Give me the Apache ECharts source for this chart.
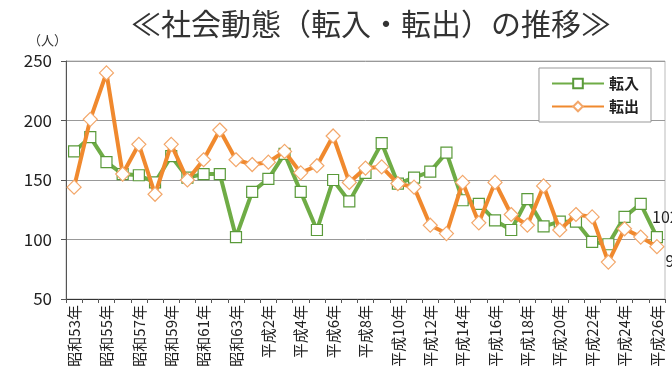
<!DOCTYPE html>
<html>
<head>
<meta charset="utf-8">
<script src="https://cdn.jsdelivr.net/npm/echarts@6/dist/echarts.min.js"></script>
<style>
html, body { margin: 0; padding: 0; background: #fff; }
#chart { width: 672px; height: 385px; }
</style>
</head>
<body>
<div id="chart"></div>
<script>
// 昭和53年 ～ 平成26年
var years = ['昭和53年','昭和54年','昭和55年','昭和56年','昭和57年','昭和58年','昭和59年','昭和60年','昭和61年','昭和62年','昭和63年',
	'平成元年','平成2年','平成3年','平成4年','平成5年','平成6年','平成7年','平成8年','平成9年','平成10年','平成11年','平成12年',
	'平成13年','平成14年','平成15年','平成16年','平成17年','平成18年','平成19年','平成20年','平成21年','平成22年','平成23年',
	'平成24年','平成25年','平成26年'];
var tennyu = [174,186,165,155,154,148,170,152,155,155,102,140,151,172,140,108,150,132,156,181,147,152,157,173,133,130,116,108,134,111,115,115,98,96,119,130,102];
var tenshutsu = [144,201,240,155,180,138,180,150,167,192,167,163,165,174,156,162,187,148,160,161,147,144,112,105,148,114,148,121,112,145,108,121,119,81,109,102,94];
var y_ticks = [50, 250, 50]; // min, max, interval

var chart = echarts.init(document.getElementById('chart'));
var font_jp = '"Noto Sans CJK JP", sans-serif';

// 最終年だけ値を表示
function last_label(offset){
	return {
		show: true,
		position: 'right',
		distance: 3,
		offset: offset,
		color: '#222',
		fontSize: 16,
		fontFamily: font_jp,
		formatter: function(p){
			return p.dataIndex == years.length - 1 ? p.value : '';
		}
	};
}

var option = {
	backgroundColor: '#fff',
	title: {
		text: '≪社会動態（転入・転出）の推移≫',
		left: 126,
		top: 4,
		textStyle: {
			fontSize: 30,
			fontWeight: 'normal',
			color: '#333',
			fontFamily: font_jp
		}
	},
	graphic: [{
		type: 'text',
		left: 28,
		top: 34,
		style: { text: '（人）', fontSize: 13, fill: '#333', fontFamily: font_jp }
	}],
	legend: {
		orient: 'vertical',
		right: 21,
		top: 68,
		itemWidth: 52,
		itemHeight: 12,
		itemGap: 8,
		padding: [8, 12, 8, 12],
		borderColor: '#999',
		borderWidth: 1,
		backgroundColor: '#fff',
		textStyle: { fontSize: 15, fontWeight: 'bold', color: '#222', fontFamily: font_jp },
		data: ['転入', '転出']
	},
	grid: {
		left: 66,
		right: 7,
		top: 61,
		bottom: 86,
		show: true,
		borderColor: '#bbb',
		borderWidth: 1
	},
	xAxis: {
		type: 'category',
		data: years,
		boundaryGap: true,
		axisLine: { lineStyle: { color: '#333', width: 1 } },
		axisTick: { show: true, interval: 0, length: 4, lineStyle: { color: '#555' } },
		axisLabel: {
			interval: 1,
			rotate: 90,
			fontSize: 15,
			color: '#222',
			margin: 6,
			fontFamily: font_jp
		}
	},
	yAxis: {
		type: 'value',
		min: y_ticks[0],
		max: y_ticks[1],
		interval: y_ticks[2],
		axisLine: { show: true, lineStyle: { color: '#555' } },
		axisTick: { show: true, length: 5, lineStyle: { color: '#555' } },
		axisLabel: { fontSize: 17, color: '#222', margin: 14, fontFamily: font_jp },
		splitLine: { lineStyle: { color: '#999', width: 1 } }
	},
	series: [
		{
			name: '転入',
			type: 'line',
			data: tennyu,
			symbol: 'rect',
			symbolSize: 11,
			showAllSymbol: true,
			z: 2,
			lineStyle: { color: '#6fac46', width: 4 },
			itemStyle: { color: '#fff', borderColor: '#5a9a3a', borderWidth: 1.2 },
			label: last_label([-14, -20])
		},
		{
			name: '転出',
			type: 'line',
			data: tenshutsu,
			symbol: 'diamond',
			symbolSize: 14,
			showAllSymbol: true,
			z: 3,
			lineStyle: { color: '#f0892e', width: 4 },
			itemStyle: { color: '#fff', borderColor: '#f3a76a', borderWidth: 1.2 },
			label: last_label([-2, 14])
		}
	]
};
chart.setOption(option);
window.addEventListener('resize', function(){
	chart.resize();
});
</script>
</body>
</html>
